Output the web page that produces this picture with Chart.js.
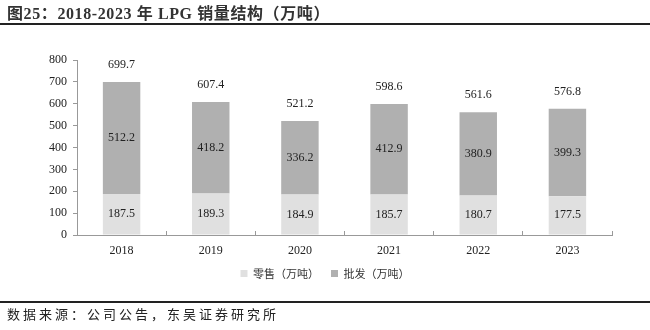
<!DOCTYPE html>
<html>
<head>
<meta charset="utf-8">
<script src="https://cdn.jsdelivr.net/npm/chart.js@4"></script>
<style>
  html, body { margin: 0; padding: 0; background: #fff; }
  #wrap { position: relative; width: 650px; height: 330px; overflow: hidden; }
  #c { position: absolute; left: 0; top: 0; }
  .title { position: absolute; left: 7px; top: 0px; font: bold 16px "Liberation Serif", "Noto Sans CJK SC", serif; letter-spacing: 0.6px; color: #333; white-space: nowrap; }
  .line { position: absolute; left: 0; width: 650px; height: 2px; background: #222; }
  .src { position: absolute; left: 7px; top: 304px; font: 13px "Noto Sans CJK SC", sans-serif; letter-spacing: 3px; color: #222; white-space: nowrap; }
</style>
</head>
<body>
<div id="wrap">
  <canvas id="c" width="650" height="330"></canvas>
  <div class="title">图25：2018-2023 年 LPG 销量结构（万吨）</div>
  <div class="line" style="top:23px"></div>
  <div class="line" style="top:301px"></div>
  <div class="src">数据来源：公司公告，东吴证券研究所</div>
</div>
<script>
const categories = ['2018', '2019', '2020', '2021', '2022', '2023'];
const retail = [187.5, 189.3, 184.9, 185.7, 180.7, 177.5];
const wholesale = [512.2, 418.2, 336.2, 412.9, 380.9, 399.3];
const totals = [699.7, 607.4, 521.2, 598.6, 561.6, 576.8];
const seriesNames = ['零售（万吨）', '批发（万吨）'];
const yTicks = [0, 100, 200, 300, 400, 500, 600, 700, 800];

const labelFont = '12px "Liberation Serif", serif';

const valueLabels = {
  id: 'valueLabels',
  afterDatasetsDraw(chart) {
    const ctx = chart.ctx;
    ctx.save();
    ctx.font = labelFont;
    ctx.fillStyle = '#222';
    ctx.textAlign = 'center';
    ctx.textBaseline = 'middle';
    chart.data.datasets.forEach((ds, di) => {
      const meta = chart.getDatasetMeta(di);
      meta.data.forEach((bar, i) => {
        const p = bar.getProps(['x', 'y', 'base'], true);
        ctx.fillText(ds.data[i].toFixed(1), p.x, (p.y + p.base) / 2);
      });
    });
    const top = chart.getDatasetMeta(chart.data.datasets.length - 1);
    top.data.forEach((bar, i) => {
      const p = bar.getProps(['x', 'y'], true);
      ctx.fillText(totals[i].toFixed(1), p.x, p.y - 17);
    });
    ctx.restore();
  }
};

new Chart(document.getElementById('c'), {
  type: 'bar',
  data: {
    labels: categories,
    datasets: [
      { label: seriesNames[0], data: retail, backgroundColor: '#e0e0e0', categoryPercentage: 0.42, barPercentage: 1 },
      { label: seriesNames[1], data: wholesale, backgroundColor: '#b0b0b0', categoryPercentage: 0.42, barPercentage: 1 }
    ]
  },
  options: {
    responsive: false,
    animation: false,
    devicePixelRatio: 1,
    layout: { padding: { left: 38, right: 38, top: 60, bottom: 41 } },
    plugins: {
      legend: {
        position: 'bottom',
        labels: {
          boxWidth: 7, boxHeight: 7, padding: 12,
          color: '#333',
          font: { family: '"Noto Sans CJK SC", sans-serif', size: 11 }
        }
      },
      tooltip: { enabled: false }
    },
    scales: {
      x: {
        stacked: true,
        afterFit(scale) { scale.height = 21; },
        grid: { drawOnChartArea: false, tickLength: -4, color: '#999', offset: true },
        border: { color: '#999' },
        ticks: { color: '#222', padding: 13, font: { family: '"Liberation Serif", serif', size: 12 } }
      },
      y: {
        stacked: true,
        min: 0, max: 800,
        afterFit(scale) { scale.width = 39; },
        afterBuildTicks(scale) { scale.ticks = yTicks.map(v => ({ value: v })); },
        grid: { drawOnChartArea: false, tickLength: 4, color: '#999' },
        border: { color: '#999' },
        ticks: { color: '#222', padding: 6, font: { family: '"Liberation Serif", serif', size: 12 } }
      }
    }
  },
  plugins: [valueLabels]
});
</script>
</body>
</html>
